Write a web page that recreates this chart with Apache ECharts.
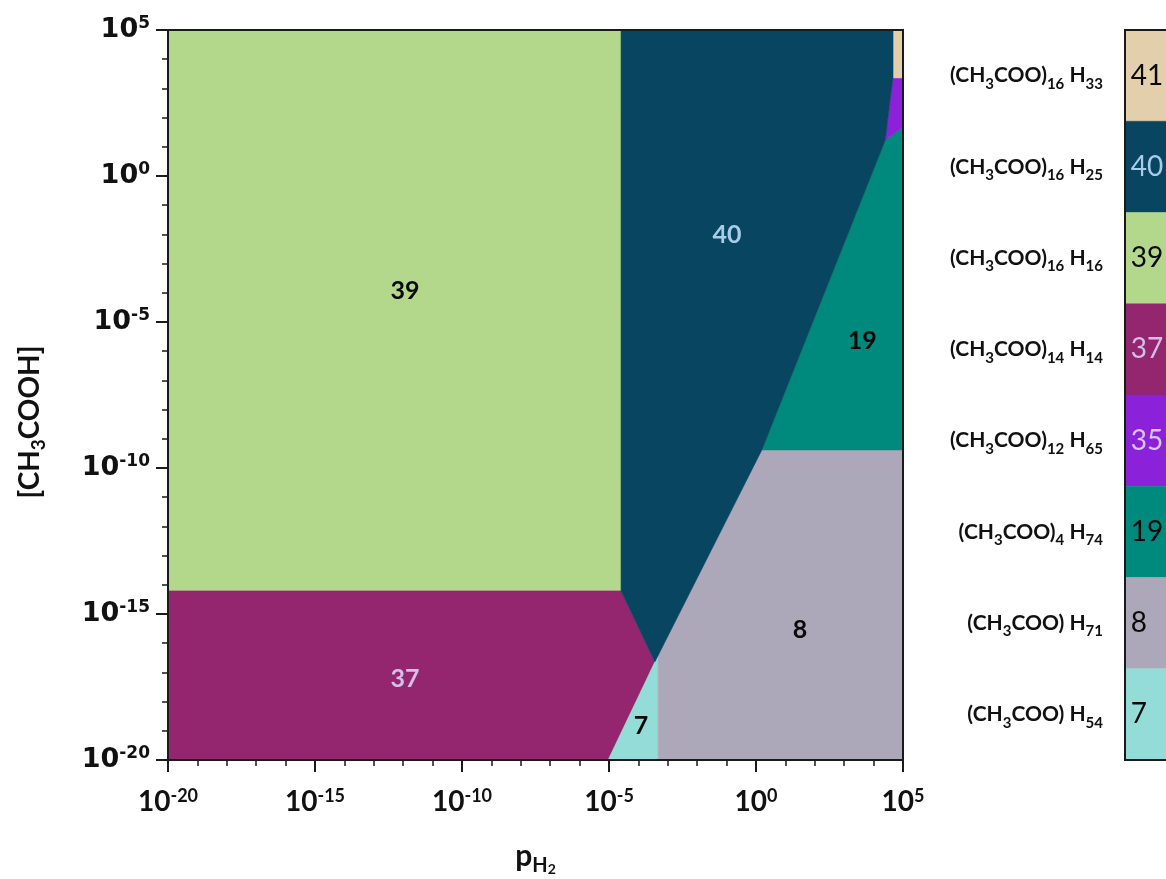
<!DOCTYPE html>
<html>
<head>
<meta charset="utf-8">
<script src="https://cdn.jsdelivr.net/npm/echarts@6/dist/echarts.min.js"></script>
<style>
html,body{margin:0;padding:0;background:#fff;}
#chart{width:1166px;height:879px;}
</style>
</head>
<body>
<div id="chart"></div>
<script>
// ---- data (log10 values) ----
const axisMin = -20, axisMax = 5;
const regionIds = ['39', '37', '7', '8', '19', '35', '41', '40'];
const poly39 = [[-20, 5], [-4.59, 5], [-4.59, -14.21], [-20, -14.21]];
const poly37 = [[-20, -14.21], [-4.59, -14.21], [-3.44, -16.64], [-5.03, -20], [-20, -20]];
const poly7  = [[-5.03, -20], [-3.44, -16.64], [-3.33, -16.42], [-3.33, -20]];
const poly8  = [[-3.33, -20], [-3.33, -16.42], [0.2, -9.38], [5, -9.38], [5, -20]];
const poly19 = [[0.2, -9.38], [4.4, 1.23], [5, 1.68], [5, -9.38]];
const poly35 = [[4.4, 1.23], [4.56, 2.6], [4.66, 3.36], [5, 3.36], [5, 1.68]];
const poly41 = [[4.66, 5], [5, 5], [5, 3.36], [4.66, 3.36]];
const poly40 = [[-4.59, 5], [4.66, 5], [4.66, 3.36], [4.56, 2.6], [4.4, 1.23], [0.2, -9.38], [-3.44, -16.64], [-4.59, -14.21]];
const regionPolys = [poly39, poly37, poly7, poly8, poly19, poly35, poly41, poly40];

const labelIds = ['39', '40', '19', '8', '37', '7'];
const labelX = [-11.94, -0.99, 3.61, 1.5, -11.94, -3.91];
const labelY = [-3.94, -2.02, -5.65, -15.55, -17.23, -18.84];

const legendIds = ['41', '40', '39', '37', '35', '19', '8', '7'];
const legendAcetateCount = ['16', '16', '16', '14', '12', '4', '', ''];
const legendHCount = ['33', '25', '16', '14', '65', '74', '71', '54'];

// ---- styles ----
const colorOf = {
  '39': '#b3d88b', '40': '#084560', '37': '#93266e', '35': '#8b21d8',
  '19': '#008a7e', '8': '#aca8b9', '7': '#94dcd7', '41': '#e4cfad'
};
const textColorOf = {
  '39': '#0a0a0a', '40': '#a9cde8', '37': '#d2bfea', '35': '#d8c6f0',
  '19': '#0a0a0a', '8': '#0a0a0a', '7': '#0a0a0a', '41': '#0a0a0a'
};

const chart = echarts.init(document.getElementById('chart'), null, {renderer: 'canvas'});

function expLabel(v) { return '{b|10}{s|' + v + '}'; }

function borderRect(params, api) {
  const c = params.coordSys;
  return { type: 'rect', shape: { x: c.x, y: c.y, width: c.width, height: c.height },
    style: { fill: 'none', stroke: '#1a1a1a', lineWidth: 2 }, z2: 100 };
}

const option = {
  animation: false,
  backgroundColor: '#fff',
  grid: [
    { left: 168, top: 30, width: 735, height: 730, outerBoundsMode: 'none', containLabel: false },
    { left: 1125, top: 30, width: 120, height: 730, outerBoundsMode: 'none', containLabel: false }
  ],
  xAxis: [
    {
      gridIndex: 0, type: 'value', min: axisMin, max: axisMax, interval: 5, z: 10,
      axisLine: { show: true, onZero: false, lineStyle: { color: '#1a1a1a', width: 2 } },
      axisTick: { show: true, length: 12, lineStyle: { color: '#1a1a1a', width: 2 } },
      minorTick: { show: true, splitNumber: 5, length: 6, lineStyle: { color: '#1a1a1a', width: 1.5 } },
      splitLine: { show: false },
      axisLabel: {
        margin: 27, formatter: expLabel,
        rich: {
          b: { fontFamily: 'Lato', fontWeight: 'bold', fontSize: 28, color: '#111', lineHeight: 30 },
          s: { fontFamily: 'Lato', fontWeight: 'bold', fontSize: 18, color: '#111', verticalAlign: 'top', lineHeight: 30 }
        }
      },
      name: 'p{h|H}{t|2}', nameLocation: 'middle', nameGap: 76,
      nameTextStyle: {
        rich: {
          h: { fontFamily: 'Lato', fontWeight: 'bold', fontSize: 20, color: '#111', verticalAlign: 'bottom', lineHeight: 36 },
          t: { fontFamily: 'Lato', fontWeight: 'bold', fontSize: 14, color: '#111', verticalAlign: 'bottom', lineHeight: 40 }
        },
        fontFamily: 'Lato', fontWeight: 'bold', fontSize: 30, color: '#111', lineHeight: 30, verticalAlign: 'top'
      }
    },
    { gridIndex: 1, type: 'value', min: 0, max: 1, show: false }
  ],
  yAxis: [
    {
      gridIndex: 0, type: 'value', min: axisMin, max: axisMax, interval: 5, z: 10,
      axisLine: { show: true, onZero: false, lineStyle: { color: '#1a1a1a', width: 2 } },
      axisTick: { show: true, length: 12, lineStyle: { color: '#1a1a1a', width: 2 } },
      minorTick: { show: true, splitNumber: 5, length: 6, lineStyle: { color: '#1a1a1a', width: 1.5 } },
      splitLine: { show: false },
      axisLabel: {
        margin: 18, formatter: expLabel,
        rich: {
          b: { fontFamily: 'DejaVu Sans', fontWeight: 'bold', fontSize: 27, color: '#111', lineHeight: 30 },
          s: { fontFamily: 'DejaVu Sans', fontWeight: 'bold', fontSize: 17, color: '#111', verticalAlign: 'top', lineHeight: 30 }
        }
      },
      name: '[CH{sub|3}COOH]', nameLocation: 'middle', nameGap: 120, nameRotate: 90,
      nameTextStyle: {
        fontFamily: 'Lato', fontWeight: 'bold', fontSize: 28, color: '#111', lineHeight: 30,
        padding: [0, 54, 0, 0],
        rich: {
          sub: { fontFamily: 'Lato', fontWeight: 'bold', fontSize: 19, color: '#111', verticalAlign: 'bottom', lineHeight: 36 }
        }
      }
    },
    {
      gridIndex: 1, type: 'category', inverse: true, data: legendIds,
      axisLine: { show: false }, axisTick: { show: false },
      axisLabel: {
        margin: 22, align: 'right',
        formatter: function (v, i) {
          const n = legendAcetateCount[i];
          return '{m|(CH}{s|3}{m|COO)}' + (n ? '{s|' + n + '}' : '') + '{m| H}{s|' + legendHCount[i] + '}';
        },
        rich: {
          m: { fontFamily: 'Lato', fontWeight: 'bold', fontSize: 21, color: '#111', lineHeight: 26 },
          s: { fontFamily: 'Lato', fontWeight: 'bold', fontSize: 15, color: '#111', verticalAlign: 'bottom', lineHeight: 32 }
        }
      }
    }
  ],
  series: [
    {
      type: 'custom', xAxisIndex: 0, yAxisIndex: 0, clip: true,
      data: regionIds.map((id, i) => ({ value: regionPolys[i][0], name: id })),
      renderItem: function (params, api) {
        const id = regionIds[params.dataIndex];
        const pts = regionPolys[params.dataIndex].map(p => api.coord(p));
        return { type: 'polygon', shape: { points: pts },
          style: { fill: colorOf[id], stroke: colorOf[id], lineWidth: 0.6 } };
      },
      silent: true
    },
    {
      type: 'custom', xAxisIndex: 0, yAxisIndex: 0,
      data: labelIds.map((id, i) => [labelX[i], labelY[i]]),
      renderItem: function (params, api) {
        const id = labelIds[params.dataIndex];
        const p = api.coord([api.value(0), api.value(1)]);
        return { type: 'text', x: p[0], y: p[1],
          style: { text: id, fill: textColorOf[id], align: 'center', verticalAlign: 'middle',
            font: 'bold 25px Lato' } };
      },
      z: 5, silent: true
    },
    {
      type: 'custom', xAxisIndex: 0, yAxisIndex: 0, data: [[0, 0]], renderItem: borderRect, z: 20, silent: true
    },
    {
      type: 'custom', xAxisIndex: 1, yAxisIndex: 1,
      data: legendIds.map((id, i) => [0, i]),
      renderItem: function (params, api) {
        const id = legendIds[params.dataIndex];
        const c = api.coord([0, params.dataIndex]);
        const h = api.size([0, 1])[1];
        const w = api.size([1, 0])[0];
        return {
          type: 'rect', shape: { x: c[0], y: c[1] - h / 2, width: w, height: h },
          style: { fill: colorOf[id], stroke: colorOf[id], lineWidth: 0.5 },
          textContent: { style: { text: id, fill: textColorOf[id], fontFamily: 'Lato', fontSize: 28 } },
          textConfig: { position: 'insideLeft', distance: 6 }
        };
      },
      silent: true
    },
    {
      type: 'custom', xAxisIndex: 1, yAxisIndex: 1, data: [[0, 0]], renderItem: borderRect, z: 20, silent: true
    }
  ]
};
chart.setOption(option);
</script>
</body>
</html>
